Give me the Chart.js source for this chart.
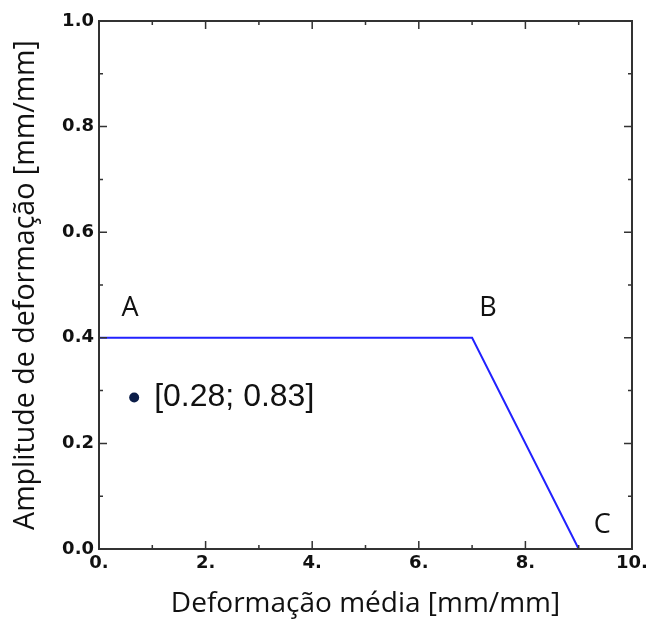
<!DOCTYPE html>
<html>
<head>
<meta charset="utf-8">
<script src="https://cdn.jsdelivr.net/npm/chart.js@4"></script>
<style>
  html, body { margin: 0; padding: 0; background: #ffffff; }
  #wrap { width: 647px; height: 626px; }
</style>
</head>
<body>
<div id="wrap"><canvas id="c" width="647" height="626"></canvas></div>
<script>
// ---- data ----
const lineX = [0, 7, 9];
const lineY = [0.4, 0.4, 0];
const pointX = [0.66];
const pointY = [0.287];
const pointLabels = ['[0.28; 0.83]'];
const cornerLabels = ['A', 'B', 'C'];
const cornerLabelX = [0.58, 7.3, 9.44];
const cornerLabelY = [0.456, 0.456, 0.045];
const xTickValues = [0, 2, 4, 6, 8, 10];
const xTickLabels = ['0.', '2.', '4.', '6.', '8.', '10.'];
const yTickValues = [0, 0.2, 0.4, 0.6, 0.8, 1.0];
const yTickLabels = ['0.0', '0.2', '0.4', '0.6', '0.8', '1.0'];
const xTitle = 'Deformação média [mm/mm]';
const yTitle = 'Amplitude de deformação [mm/mm]';

const lineData = lineX.map((x, i) => ({ x: x, y: lineY[i] }));
const pointData = pointX.map((x, i) => ({ x: x, y: pointY[i] }));

function labelFor(values, labels, v) {
  let best = 0;
  for (let i = 1; i < values.length; i++) {
    if (Math.abs(values[i] - v) < Math.abs(values[best] - v)) best = i;
  }
  return Math.abs(values[best] - v) < 1e-6 ? labels[best] : '';
}

const frameAndTicks = {
  id: 'frameAndTicks',
  afterDraw(chart) {
    const ctx = chart.ctx;
    const a = chart.chartArea;
    const xs = chart.scales.x, ys = chart.scales.y;
    ctx.save();
    ctx.strokeStyle = '#333333';
    ctx.lineWidth = 2;
    ctx.strokeRect(a.left, a.top, a.right - a.left, a.bottom - a.top);
    const major = 8, minor = 4;
    ctx.lineWidth = 1.5;
    const xt = xs.ticks.map(t => t.value);
    const yt = ys.ticks.map(t => t.value);
    const drawX = (v, len) => {
      const p = xs.getPixelForValue(v);
      ctx.beginPath();
      ctx.moveTo(p, a.bottom); ctx.lineTo(p, a.bottom - len);
      ctx.moveTo(p, a.top); ctx.lineTo(p, a.top + len);
      ctx.stroke();
    };
    const drawY = (v, len) => {
      const p = ys.getPixelForValue(v);
      ctx.beginPath();
      ctx.moveTo(a.left, p); ctx.lineTo(a.left + len, p);
      ctx.moveTo(a.right, p); ctx.lineTo(a.right - len, p);
      ctx.stroke();
    };
    xt.forEach((v, i) => { drawX(v, major); if (i < xt.length - 1) drawX((v + xt[i + 1]) / 2, minor); });
    yt.forEach((v, i) => { drawY(v, major); if (i < yt.length - 1) drawY((v + yt[i + 1]) / 2, minor); });
    // annotations
    ctx.fillStyle = '#111111';
    ctx.textBaseline = 'middle';
    ctx.textAlign = 'center';
    ctx.font = '500 27px "Open Sans"';
    cornerLabels.forEach((t, i) => {
      ctx.fillText(t, xs.getPixelForValue(cornerLabelX[i]), ys.getPixelForValue(cornerLabelY[i]));
    });
    ctx.textAlign = 'left';
    ctx.font = '32px "Liberation Sans"';
    pointLabels.forEach((t, i) => {
      ctx.fillText(t, xs.getPixelForValue(pointX[i]) + 20, ys.getPixelForValue(pointY[i]));
    });
    ctx.restore();
  }
};

new Chart(document.getElementById('c'), {
  type: 'scatter',
  data: {
    datasets: [
      {
        data: lineData,
        showLine: true,
        borderColor: '#2222ff',
        borderWidth: 2,
        pointRadius: 0,
        fill: false,
        tension: 0
      },
      {
        data: pointData,
        showLine: false,
        pointRadius: 5,
        pointBackgroundColor: '#0b1d48',
        pointBorderColor: '#0b1d48',
        pointBorderWidth: 0
      }
    ]
  },
  options: {
    responsive: false,
    animation: false,
    events: [],
    layout: { padding: { left: 0, top: 21, right: 15, bottom: 0 } },
    plugins: { legend: { display: false }, tooltip: { enabled: false } },
    scales: {
      x: {
        type: 'linear',
        min: 0, max: 10,
        grid: { display: false, drawTicks: false },
        border: { display: false },
        ticks: {
          stepSize: 2,
          padding: 4,
          color: '#111111',
          font: { family: '"DejaVu Sans"', size: 18, weight: 'bold' },
          callback: (v) => labelFor(xTickValues, xTickLabels, v)
        },
        title: {
          display: true,
          text: xTitle,
          color: '#111111',
          font: { family: '"Open Sans"', size: 28 },
          padding: { top: 0, bottom: 5 }
        },
        afterFit: (s) => { s.height = 77; s.paddingLeft = 0; s.paddingRight = 0; }
      },
      y: {
        type: 'linear',
        min: 0, max: 1,
        grid: { display: false, drawTicks: false },
        border: { display: false },
        ticks: {
          stepSize: 0.2,
          padding: 5,
          color: '#111111',
          font: { family: '"DejaVu Sans"', size: 18, weight: 'bold' },
          callback: (v) => labelFor(yTickValues, yTickLabels, v)
        },
        title: {
          display: true,
          text: yTitle,
          color: '#111111',
          font: { family: '"Open Sans"', size: 28.6 },
          padding: { top: 9, bottom: 0 }
        },
        afterFit: (s) => { s.width = 99; s.paddingTop = 0; s.paddingBottom = 0; }
      }
    }
  },
  plugins: [frameAndTicks]
});
</script>
</body>
</html>
